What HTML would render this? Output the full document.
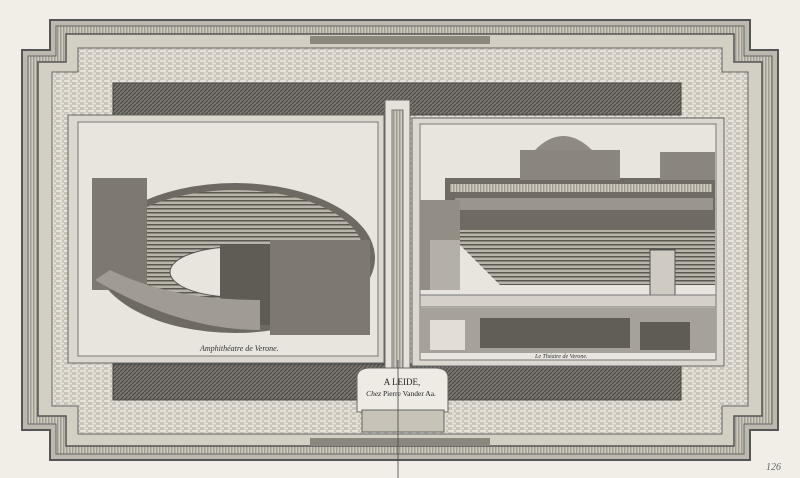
<!DOCTYPE html>
<html><head><style>
html,body{margin:0;padding:0;background:#f1eee8}
svg{display:block}
</style></head><body>
<svg width="800" height="478" viewBox="0 0 800 478" xmlns="http://www.w3.org/2000/svg">
<defs>
<pattern id="brick" width="8" height="5" patternUnits="userSpaceOnUse">
<rect width="8" height="5" fill="#c9c4ba"/><rect x="0" y="0" width="6" height="2" fill="#e6e2da"/><rect x="4" y="2.5" width="6" height="2" fill="#e6e2da"/>
</pattern>
<pattern id="dark" width="4" height="4" patternUnits="userSpaceOnUse">
<rect width="4" height="4" fill="#7a766f"/><path d="M0 4L4 0" stroke="#4e4b46" stroke-width="1.2"/>
</pattern>
<pattern id="vert" width="3" height="6" patternUnits="userSpaceOnUse">
<rect width="3" height="6" fill="#cfcac0"/><rect width="1.5" height="6" fill="#a29d94"/>
</pattern>
<pattern id="seat" width="6" height="4" patternUnits="userSpaceOnUse">
<rect width="6" height="4" fill="#b9b4aa"/><rect width="6" height="1.5" fill="#5a5650"/>
</pattern>
</defs>
<rect width="800" height="478" fill="#f1eee8"/>
<path d="M50 20H750V50H778V430H750V460H50V430H22V50H50Z" fill="#bdb8ae" stroke="#555" stroke-width="2"/>
<path d="M56 26H744V56H772V424H744V454H56V424H28V56H56Z" fill="url(#vert)" stroke="#666" stroke-width="1"/>
<path d="M66 34H734V62H762V416H734V446H66V416H38V62H66Z" fill="#d4cfc5" stroke="#555" stroke-width="1.5"/>
<path d="M78 48H722V72H748V406H722V434H78V406H52V72H78Z" fill="url(#brick)" stroke="#666" stroke-width="1"/>
<rect x="310" y="36" width="180" height="8" fill="#8b867e"/>
<rect x="310" y="438" width="180" height="8" fill="#8b867e"/>
<rect x="113" y="83" width="568" height="32" fill="url(#dark)" stroke="#444"/>
<rect x="113" y="364" width="568" height="36" fill="url(#dark)" stroke="#444"/>
<rect x="385" y="100" width="25" height="290" fill="#e6e2da" stroke="#666"/>
<rect x="392" y="110" width="11" height="270" fill="url(#vert)" stroke="#777"/>
<rect x="68" y="115" width="316" height="248" fill="#dcd8cf" stroke="#666"/>
<rect x="78" y="122" width="300" height="234" fill="#e8e5de" stroke="#777"/>
<ellipse cx="235" cy="258" rx="140" ry="75" fill="#6e6a63"/>
<ellipse cx="235" cy="252" rx="128" ry="62" fill="url(#seat)"/>
<ellipse cx="235" cy="272" rx="65" ry="25" fill="#e8e5de" stroke="#555"/>
<rect x="92" y="178" width="55" height="112" fill="#7d7870"/>
<rect x="220" y="245" width="90" height="80" fill="#5f5b55"/>
<rect x="270" y="240" width="100" height="95" fill="#7d7870"/>
<path d="M95 280Q180 330 260 330L260 300Q170 300 110 270Z" fill="#a19c93"/>
<text x="200" y="351" font-family="Liberation Serif,serif" font-style="italic" font-size="8" fill="#333">Amphithéatre de Verone.</text>
<rect x="412" y="118" width="312" height="248" fill="#dcd8cf" stroke="#666"/>
<rect x="420" y="124" width="296" height="236" fill="#e8e5de" stroke="#777"/>
<rect x="445" y="178" width="270" height="55" fill="#6f6b64"/>
<rect x="450" y="184" width="262" height="8" fill="url(#vert)"/>
<rect x="455" y="198" width="258" height="12" fill="#9b968d"/>
<rect x="520" y="150" width="100" height="30" fill="#8a857d"/>
<path d="M535 150Q563 122 592 150Z" fill="#8f8a82"/>
<rect x="660" y="152" width="55" height="28" fill="#8a857d"/>
<path d="M445 230H715V285H500Z" fill="url(#seat)"/>
<rect x="420" y="200" width="40" height="90" fill="#938e85"/>
<rect x="430" y="240" width="30" height="50" fill="#b5b0a7"/>
<rect x="650" y="250" width="25" height="45" fill="#cfcac2" stroke="#555"/>
<rect x="420" y="295" width="296" height="12" fill="#d6d1c8" stroke="#777"/>
<rect x="420" y="308" width="296" height="45" fill="#a7a299"/>
<rect x="480" y="318" width="150" height="30" fill="#615d57"/>
<rect x="430" y="320" width="35" height="30" fill="#e2ded6"/>
<rect x="640" y="322" width="50" height="28" fill="#5f5b55"/>
<text x="535" y="358" font-family="Liberation Serif,serif" font-style="italic" font-size="6" fill="#333">Le Théatre de Verone.</text>
<path d="M357 378Q357 368 370 368H435Q448 368 448 378V412H357Z" fill="#eeebe4" stroke="#666"/>
<rect x="362" y="410" width="82" height="22" fill="#c8c3b9" stroke="#666"/>
<text x="402" y="385" text-anchor="middle" font-family="Liberation Serif,serif" font-size="9" fill="#222">A LEIDE,</text>
<text x="401" y="396" text-anchor="middle" font-family="Liberation Serif,serif" font-size="7.5" fill="#222"><tspan font-style="italic">Chez</tspan> Pierre Vander Aa.</text>
<line x1="398" y1="360" x2="398" y2="478" stroke="#444" stroke-width="0.8"/>
<text x="766" y="470" font-family="Liberation Serif,serif" font-style="italic" font-size="10" fill="#666">126</text>
</svg>
</body></html>
